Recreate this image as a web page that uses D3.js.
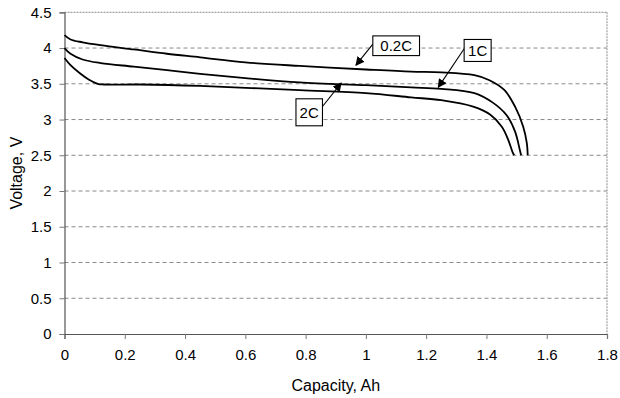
<!DOCTYPE html>
<html>
<head>
<meta charset="utf-8">
<script src="https://cdn.jsdelivr.net/npm/d3@7"></script>
<style>
  html, body { margin: 0; padding: 0; background: #fff; }
  svg { display: block; }
  text { font-family: "Liberation Sans", Arial, sans-serif; fill: #000; }
</style>
</head>
<body>
<svg id="chart" width="620" height="398"></svg>
<script>
// ---- data ----
const seriesNames = ["0.2C", "1C", "2C"];

const cap02 = [0, 0.02, 0.06, 0.12, 0.23, 0.34, 0.45, 0.6, 0.78, 1.0, 1.15, 1.25, 1.36, 1.41, 1.46, 1.495, 1.522, 1.534, 1.537];
const v02   = [4.18, 4.12, 4.08, 4.04, 3.98, 3.92, 3.87, 3.80, 3.75, 3.70, 3.67, 3.66, 3.62, 3.55, 3.41, 3.18, 2.90, 2.67, 2.50];

const cap1 = [0, 0.02, 0.06, 0.12, 0.23, 0.34, 0.45, 0.6, 0.78, 1.0, 1.15, 1.25, 1.36, 1.42, 1.467, 1.495, 1.511, 1.515];
const v1   = [4.0, 3.92, 3.84, 3.79, 3.74, 3.69, 3.64, 3.58, 3.52, 3.48, 3.45, 3.43, 3.37, 3.24, 3.06, 2.83, 2.57, 2.50];

const cap2 = [0, 0.02, 0.05, 0.08, 0.11, 0.13, 0.25, 0.45, 0.78, 1.0, 1.15, 1.25, 1.356, 1.412, 1.451, 1.472, 1.487, 1.492];
const v2   = [3.86, 3.76, 3.65, 3.56, 3.50, 3.49, 3.49, 3.47, 3.41, 3.37, 3.31, 3.27, 3.18, 3.07, 2.90, 2.72, 2.54, 2.50];

const xTicks = [0, 0.2, 0.4, 0.6, 0.8, 1, 1.2, 1.4, 1.6, 1.8];
const yTicks = [0, 0.5, 1, 1.5, 2, 2.5, 3, 3.5, 4, 4.5];

// annotation anchors in data units: [label box left, box top, arrow tip]
const annCap   = [[1.023, 4.17, 0.967], [1.326, 4.12, 1.240], [0.768, 3.29, 0.918]];
const annVolt  = [[4.17, 3.76], [4.12, 3.45], [3.29, 3.51]];

// ---- layout ----
const svg = d3.select("#chart");
const M = { left: 64.5, right: 607, top: 12.3, bottom: 334 };

const x = d3.scaleLinear().domain([0, 1.8]).range([M.left, M.right]);
const y = d3.scaleLinear().domain([0, 4.5]).range([M.bottom, M.top]);

// gridlines
svg.append("g").selectAll("line")
  .data(yTicks.filter(t => t > 0 && t < 4.5))
  .join("line")
  .attr("x1", M.left).attr("x2", M.right)
  .attr("y1", d => y(d)).attr("y2", d => y(d))
  .attr("stroke", "#8a8a8a").attr("stroke-width", 1)
  .attr("stroke-dasharray", "4,3");

// plot frame top & right (light gray)
svg.append("line")
  .attr("x1", M.left).attr("x2", M.right).attr("y1", y(4.5)).attr("y2", y(4.5))
  .attr("stroke", "#a0a0a0").attr("stroke-width", 1.2).attr("stroke-dasharray", "2,1");
svg.append("line")
  .attr("x1", M.right).attr("x2", M.right).attr("y1", y(4.5)).attr("y2", y(0))
  .attr("stroke", "#a0a0a0").attr("stroke-width", 1.2).attr("stroke-dasharray", "2,1");

// axes
const xAxis = d3.axisBottom(x).tickValues(xTicks).tickSize(5).tickPadding(10)
  .tickFormat(d => String(d));
const yAxis = d3.axisLeft(y).tickValues(yTicks).tickSize(5).tickPadding(8)
  .tickFormat(d => String(d));

const gx = svg.append("g").attr("transform", `translate(0,${M.bottom})`).call(xAxis);
const gy = svg.append("g").attr("transform", `translate(${M.left},0)`).call(yAxis);
[gx, gy].forEach(g => {
  g.select(".domain").attr("stroke", "#555").attr("stroke-width", 1.2);
  g.selectAll(".tick line").attr("stroke", "#777");
  g.selectAll(".tick text").attr("font-size", 15)
    .attr("font-family", "'Liberation Sans', Arial, sans-serif").attr("fill", "#000");
});

// axis titles
svg.append("text")
  .attr("x", (M.left + M.right) / 2).attr("y", 391)
  .attr("text-anchor", "middle").attr("font-size", 16)
  .text("Capacity, Ah");
svg.append("text")
  .attr("transform", `translate(22,${(M.top + M.bottom) / 2}) rotate(-90)`)
  .attr("text-anchor", "middle").attr("font-size", 16)
  .text("Voltage, V");

// curves
const series = [
  { name: seriesNames[0], cap: cap02, v: v02 },
  { name: seriesNames[1], cap: cap1, v: v1 },
  { name: seriesNames[2], cap: cap2, v: v2 }
];
const line = d3.line()
  .x(d => x(d[0])).y(d => y(d[1]))
  .curve(d3.curveCatmullRom.alpha(0.5));

svg.append("g").selectAll("path")
  .data(series)
  .join("path")
  .attr("d", s => line(s.cap.map((c, i) => [c, s.v[i]])))
  .attr("fill", "none").attr("stroke", "#000").attr("stroke-width", 1.8);

// annotations
svg.append("defs").append("marker")
  .attr("id", "arr").attr("viewBox", "0 0 10 10")
  .attr("refX", 9).attr("refY", 5)
  .attr("markerWidth", 9).attr("markerHeight", 9)
  .attr("markerUnits", "userSpaceOnUse")
  .attr("orient", "auto")
  .append("path").attr("d", "M0,0 L10,5 L0,10 z").attr("fill", "#000");

const boxSizes = [[46.7, 19.7], [27, 22], [26.5, 27]];
const arrowFrom = [[0, 8.3], [0, 9.3], [26.5, 7.7]]; // offset within box

series.forEach((s, i) => {
  const bx = x(annCap[i][0]), by = y(annVolt[i][0]);
  const [bw, bh] = boxSizes[i];
  const g = svg.append("g");
  g.append("line")
    .attr("x1", bx + arrowFrom[i][0]).attr("y1", by + arrowFrom[i][1])
    .attr("x2", x(annCap[i][2])).attr("y2", y(annVolt[i][1]))
    .attr("stroke", "#000").attr("stroke-width", 1.1)
    .attr("marker-end", "url(#arr)");
  g.append("rect")
    .attr("x", bx).attr("y", by).attr("width", bw).attr("height", bh)
    .attr("fill", "#fff").attr("stroke", "#000").attr("stroke-width", 1.1);
  g.append("text")
    .attr("x", bx + bw / 2).attr("y", by + bh / 2 + 5.5)
    .attr("text-anchor", "middle").attr("font-size", 15)
    .text(s.name);
});
</script>
</body>
</html>
